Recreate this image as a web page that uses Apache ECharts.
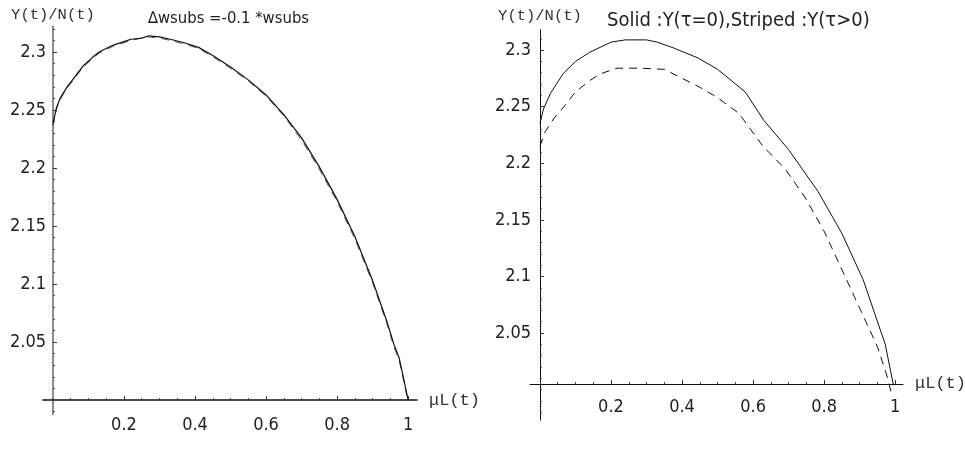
<!DOCTYPE html>
<html><head><meta charset="utf-8">
<script src="https://cdn.jsdelivr.net/npm/echarts@6/dist/echarts.min.js"></script>
<style>html,body{margin:0;padding:0;background:#fff}#c{width:965px;height:463px}</style>
</head><body><div id="c"></div>
<script>
// ---- data ----
const xTickLabels = [0.2, 0.4, 0.6, 0.8, 1];
const yTickLabels = [2.05, 2.1, 2.15, 2.2, 2.25, 2.3];

const leftX = [0, 0.01, 0.02, 0.04, 0.06, 0.085, 0.11, 0.13, 0.17, 0.2, 0.22, 0.25, 0.27, 0.3, 0.33, 0.37, 0.41, 0.45, 0.5, 0.55, 0.6, 0.65, 0.7, 0.75, 0.8, 0.85, 0.9, 0.94, 0.96, 0.975, 0.985, 1.0];
const leftSolid = [2.238, 2.252, 2.26, 2.27, 2.278, 2.288, 2.295, 2.3, 2.306, 2.309, 2.311, 2.312, 2.314, 2.313, 2.311, 2.308, 2.304, 2.297, 2.287, 2.276, 2.263, 2.246, 2.226, 2.201, 2.173, 2.141, 2.103, 2.068, 2.048, 2.036, 2.022, 2.0];
const leftDashed = [2.236, 2.251, 2.259, 2.269, 2.277, 2.287, 2.294, 2.299, 2.305, 2.308, 2.310, 2.312, 2.313, 2.312, 2.310, 2.307, 2.303, 2.296, 2.286, 2.275, 2.262, 2.245, 2.224, 2.199, 2.171, 2.139, 2.101, 2.066, 2.046, 2.034, 2.02, 1.999];

const rightSolidX = [0, 0.01, 0.03, 0.065, 0.1, 0.14, 0.2, 0.24, 0.3, 0.33, 0.375, 0.445, 0.5, 0.578, 0.63, 0.7, 0.783, 0.85, 0.91, 0.972, 0.995];
const rightSolid = [2.235, 2.248, 2.262, 2.279, 2.29, 2.298, 2.307, 2.309, 2.309, 2.307, 2.302, 2.293, 2.283, 2.263, 2.238, 2.212, 2.175, 2.138, 2.097, 2.04, 2.004];
const rightDashX = [0, 0.015, 0.04, 0.065, 0.1, 0.14, 0.17, 0.217, 0.28, 0.35, 0.394, 0.445, 0.5, 0.56, 0.628, 0.69, 0.746, 0.8, 0.9, 0.95, 0.977, 0.99];
const rightDashed = [2.215, 2.228, 2.24, 2.249, 2.263, 2.273, 2.279, 2.284, 2.284, 2.283, 2.276, 2.268, 2.258, 2.244, 2.215, 2.195, 2.17, 2.14, 2.072, 2.038, 2.012, 1.996];

const yName = 'Y(t)/N(t)';
const xName = 'μL(t)';
const leftTitle = '∆wsubs =-0.1 *wsubs';
const rightTitle = 'Solid :Y(τ=0),Striped :Y(τ>0)';

// ---- helpers ----
function pairs(xs, ys) { return xs.map((x, i) => [x, ys[i]]); }
function steps(from, to, step) {
  const out = [];
  for (let k = Math.ceil(from / step - 1e-9); k * step <= to + 1e-9; k++) out.push(+(k * step).toFixed(4));
  return out;
}
const narrow = "'Liberation Sans Narrow','DejaVu Sans Condensed','Roboto Condensed','Liberation Sans',sans-serif";
const mono = "'Liberation Mono','DejaVu Sans Mono',monospace";

const panels = [
  { left: 43, width: 374, top: 26.5, height: 387.5, xMin: -0.028, xMax: 1.025, yMin: 1.988, yMax: 2.322, cross: 2.0,
    yColor: '#8c8c8c', yWidth: 2, xWidth: 1.5, nameGap: 4, labelMargin: 16, yLabelMargin: -3 },
  { left: 530, width: 373, top: 29.7, height: 390.5, xMin: -0.028, xMax: 1.022, yMin: 1.973, yMax: 2.318, cross: 2.005,
    yColor: '#111', yWidth: 1, xWidth: 1, nameGap: 6, labelMargin: 14, yLabelMargin: -1 }
];

const grid = [], xAxis = [], yAxis = [];
panels.forEach((p, gi) => {
  grid.push({ left: p.left, top: p.top, width: p.width, height: p.height, containLabel: false, outerBoundsMode: 'none' });
  const off = -p.height * (p.cross - p.yMin) / (p.yMax - p.yMin);
  const xMinor = steps(0, 1, 0.05).filter(v => !xTickLabels.some(t => Math.abs(t - v) < 1e-6));
  const yMinor = steps(p.yMin, p.yMax, 0.01).filter(v => !yTickLabels.some(t => Math.abs(t - v) < 1e-6));
  xAxis.push({
    type: 'value', gridIndex: gi, position: 'bottom', offset: off, min: p.xMin, max: p.xMax,
    axisLine: { show: true, onZero: false, lineStyle: { color: '#111', width: p.xWidth } },
    axisTick: { show: true, inside: true, length: 4, customValues: xTickLabels, lineStyle: { color: '#333' } },
    axisLabel: { show: true, customValues: xTickLabels, margin: p.labelMargin, fontFamily: narrow, fontSize: 18, color: '#222',
      formatter: v => String(+v.toFixed(2)) },
    splitLine: { show: false },
    name: xName, nameLocation: 'end', nameGap: 12,
    nameTextStyle: { fontFamily: mono, fontSize: 17, color: '#333', verticalAlign: 'middle', padding: [0, 0, 6, 0] }
  });
  xAxis.push({
    type: 'value', gridIndex: gi, position: 'bottom', offset: off, min: p.xMin, max: p.xMax,
    axisLine: { show: false, onZero: false },
    axisTick: { show: true, inside: true, length: 2, customValues: xMinor, lineStyle: { color: '#444' } },
    axisLabel: { show: false }, splitLine: { show: false }
  });
  yAxis.push({
    type: 'value', gridIndex: gi, position: 'left', min: p.yMin, max: p.yMax,
    axisLine: { show: true, onZero: true, onZeroAxisIndex: gi * 2, lineStyle: { color: p.yColor, width: p.yWidth } },
    axisTick: { show: true, inside: true, length: 4, customValues: yTickLabels, lineStyle: { color: '#333' } },
    axisLabel: { show: true, customValues: yTickLabels, margin: p.yLabelMargin, fontFamily: narrow, fontSize: 18, color: '#222',
      formatter: v => String(+v.toFixed(2)) },
    splitLine: { show: false },
    name: yName, nameLocation: 'end', nameGap: p.nameGap,
    nameTextStyle: { fontFamily: mono, fontSize: 15.5, color: '#333' }
  });
  yAxis.push({
    type: 'value', gridIndex: gi, position: 'left', min: p.yMin, max: p.yMax,
    axisLine: { show: false, onZero: true, onZeroAxisIndex: gi * 2 + 1 },
    axisTick: { show: true, inside: true, length: 2, customValues: yMinor, lineStyle: { color: '#444' } },
    axisLabel: { show: false }, splitLine: { show: false }
  });
});

const lineBase = { type: 'line', showSymbol: false, symbol: 'none', smooth: false, silent: true, animation: false };
const series = [
  Object.assign({}, lineBase, { xAxisIndex: 0, yAxisIndex: 0, data: pairs(leftX, leftDashed),
    lineStyle: { color: '#555', width: 1, type: [8, 6] } }),
  Object.assign({}, lineBase, { xAxisIndex: 0, yAxisIndex: 0, data: pairs(leftX, leftSolid),
    lineStyle: { color: '#111', width: 1.2 } }),
  Object.assign({}, lineBase, { xAxisIndex: 2, yAxisIndex: 2, data: pairs(rightSolidX, rightSolid),
    lineStyle: { color: '#111', width: 1 } }),
  Object.assign({}, lineBase, { xAxisIndex: 2, yAxisIndex: 2, data: pairs(rightDashX, rightDashed),
    lineStyle: { color: '#111', width: 1, type: [8, 6] } })
];

const chart = echarts.init(document.getElementById('c'), null, { renderer: 'canvas' });
chart.setOption({
  backgroundColor: '#fff',
  animation: false,
  title: [
    { text: leftTitle, left: 143, top: 5, textStyle: { fontFamily: narrow, fontSize: 16.5, fontWeight: 'normal', color: '#222' } },
    { text: rightTitle, left: 602, top: 6, textStyle: { fontFamily: narrow, fontSize: 20, fontWeight: 'normal', color: '#222' } }
  ],
  grid, xAxis, yAxis, series
});
</script></body></html>
